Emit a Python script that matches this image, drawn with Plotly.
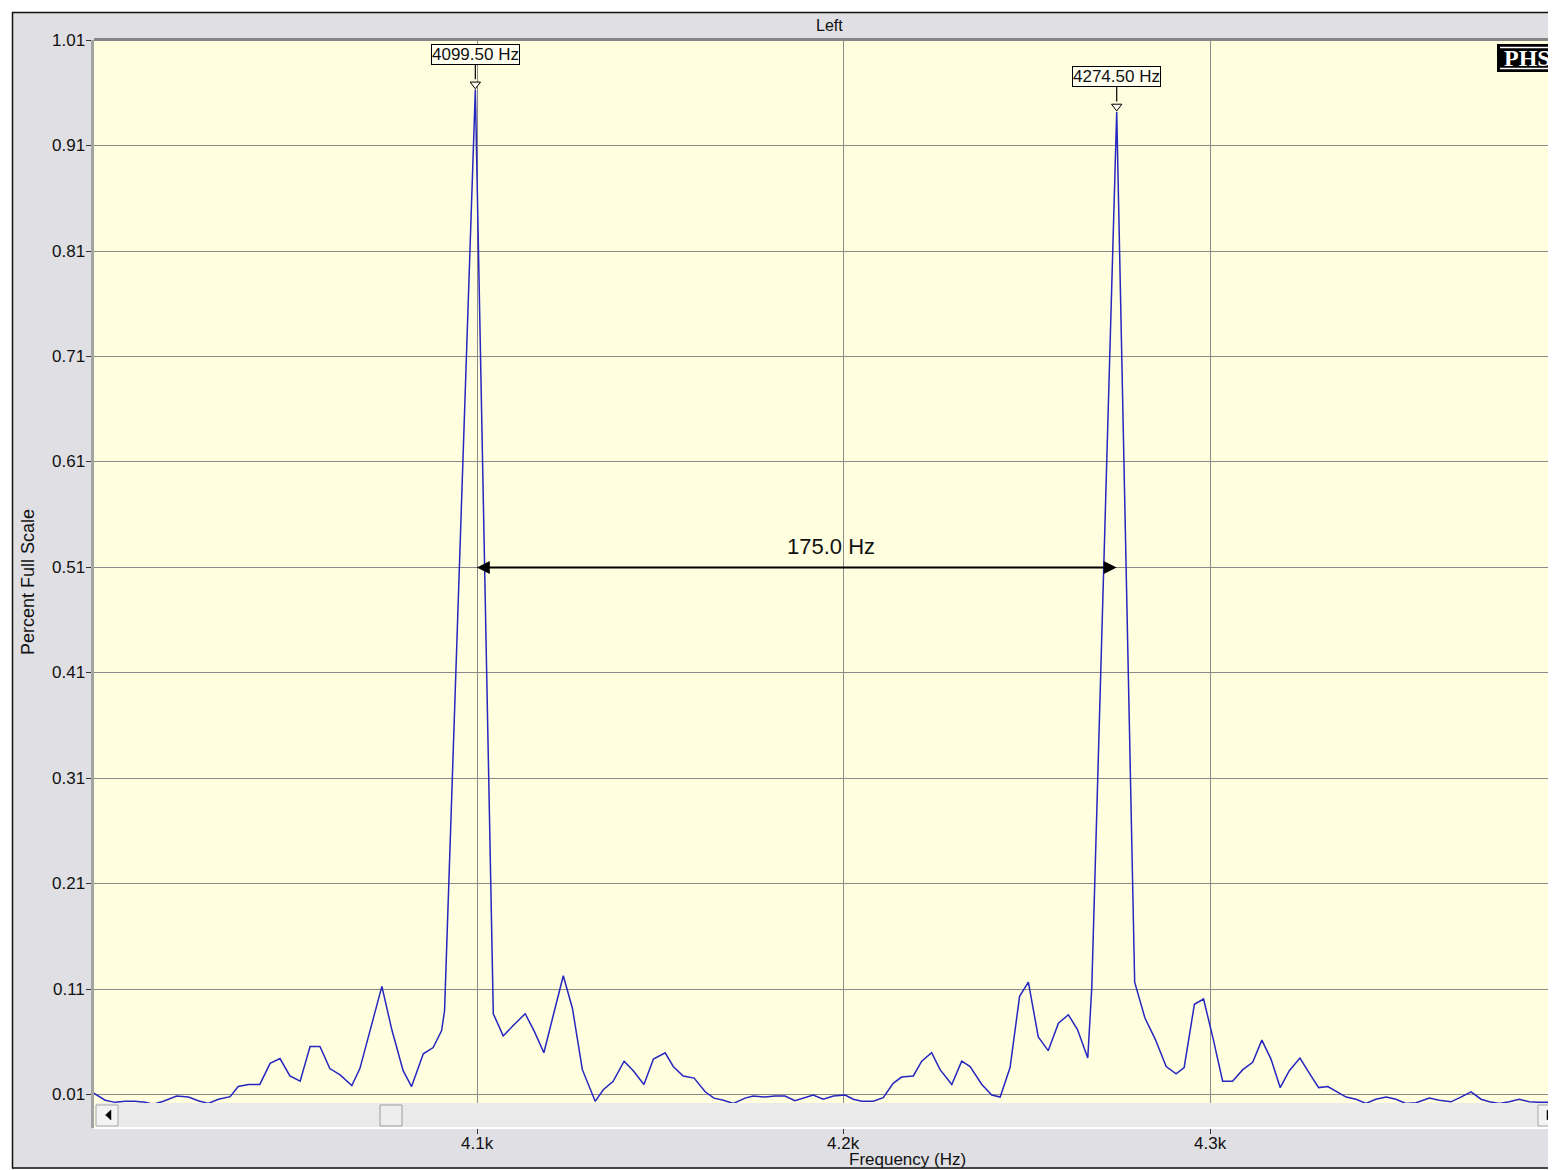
import plotly.graph_objects as go

# ---------------- data ----------------
freq_hz = [
    3993.8, 3998.5, 4001.2, 4003.9, 4006.6, 4009.4, 4011.6, 4014.4, 4018.0, 4021.2,
    4023.9, 4026.6, 4029.4, 4032.6, 4034.8, 4037.6, 4040.7, 4043.5, 4046.2, 4048.9,
    4051.7, 4054.4, 4057.1, 4059.8, 4062.6, 4065.8, 4068.0, 4071.0, 4074.0, 4076.7,
    4079.8, 4082.1, 4085.3, 4088.0, 4090.3, 4091.1, 4099.5, 4104.4, 4107.1, 4109.9,
    4113.1, 4115.5, 4118.2, 4120.8, 4123.5, 4126.0, 4128.7, 4132.2, 4134.4, 4137.1,
    4140.1, 4142.6, 4145.5, 4148.1, 4151.3, 4153.5, 4156.2, 4159.2, 4162.2, 4164.6,
    4167.2, 4169.9, 4173.1, 4175.3, 4178.5, 4181.3, 4184.0, 4186.7, 4189.0, 4191.7,
    4194.4, 4197.2, 4200.4, 4202.6, 4204.9, 4208.1, 4210.8, 4213.5, 4215.8, 4219.0,
    4221.3, 4224.0, 4226.3, 4229.5, 4232.2, 4234.5, 4237.7, 4240.4, 4242.7, 4245.4,
    4248.0, 4250.4, 4253.1, 4255.8, 4258.6, 4261.3, 4263.8, 4266.6, 4267.7, 4274.5,
    4279.4, 4282.2, 4285.0, 4288.0, 4290.7, 4292.9, 4295.7, 4298.2, 4300.9, 4303.4,
    4306.1, 4308.9, 4311.6, 4314.1, 4316.6, 4319.1, 4321.6, 4324.5, 4327.0, 4329.6,
    4332.1, 4334.8, 4337.1, 4339.8, 4342.5, 4345.2, 4348.0, 4350.7, 4353.4, 4356.2,
    4359.8, 4362.5, 4365.7, 4368.4, 4371.2, 4373.9, 4376.2, 4378.9, 4381.6, 4384.3,
    4387.1, 4389.8, 4392.5, 4395.2,
]
amplitude = [
    0.015, 0.005, 0.003, 0.004, 0.004, 0.003, 0.0013, 0.004, 0.009, 0.008,
    0.0045, 0.002, 0.006, 0.0084, 0.018, 0.020, 0.020, 0.040, 0.0445, 0.028,
    0.023, 0.056, 0.056, 0.035, 0.029, 0.019, 0.035, 0.074, 0.113, 0.072,
    0.033, 0.018, 0.049, 0.055, 0.071, 0.090, 0.963, 0.087, 0.066, 0.076,
    0.087, 0.071, 0.050, 0.086, 0.123, 0.092, 0.034, 0.004, 0.015, 0.023,
    0.042, 0.033, 0.020, 0.044, 0.050, 0.037, 0.028, 0.026, 0.013, 0.007,
    0.005, 0.002, 0.007, 0.009, 0.008, 0.009, 0.009, 0.0045, 0.007, 0.010,
    0.006, 0.009, 0.010, 0.006, 0.004, 0.004, 0.0074, 0.021, 0.027, 0.028,
    0.042, 0.050, 0.034, 0.020, 0.042, 0.037, 0.020, 0.010, 0.008, 0.036,
    0.1035, 0.117, 0.065, 0.052, 0.078, 0.086, 0.072, 0.045, 0.112, 0.942,
    0.117, 0.083, 0.063, 0.037, 0.030, 0.036, 0.096, 0.101, 0.062, 0.023,
    0.023, 0.034, 0.041, 0.062, 0.044, 0.017, 0.033, 0.045, 0.031, 0.017,
    0.018, 0.013, 0.008, 0.006, 0.002, 0.006, 0.008, 0.006, 0.002, 0.0026,
    0.007, 0.005, 0.0035, 0.008, 0.013, 0.006, 0.0035, 0.002, 0.0035, 0.006,
    0.0035, 0.003, 0.003, 0.002,
]

peak_freqs = [4099.5, 4274.5]
peak_values = [0.963, 0.942]
peak_labels = ["4099.50 Hz", "4274.50 Hz"]
delta_label = "175.0 Hz"
delta_level = 0.51

x_tickvals = [4100, 4200, 4300]
x_ticktext = ["4.1k", "4.2k", "4.3k"]
y_tickvals = [0.01, 0.11, 0.21, 0.31, 0.41, 0.51, 0.61, 0.71, 0.81, 0.91, 1.01]
y_ticktext = ["0.01", "0.11", "0.21", "0.31", "0.41", "0.51", "0.61", "0.71", "0.81", "0.91", "1.01"]
x_range = [3995.45, 4394.36]
y_range = [-0.0213, 1.01]

title_text = "Left"
x_title = "Frequency (Hz)"
y_title = "Percent Full Scale"

# ---------------- layout geometry ----------------
# The page body has an 8px margin, so the figure is drawn 8px in from the
# window's corner; all screen positions below are given in window pixels.
OFF = 8
W, H = 1556 - OFF, 1170 - OFF
ML, MR, MT, MB = 94 - OFF, 0, 40 - OFF, 1170 - 1128
PW = W - ML - MR
PH = H - MT - MB


def px(X):
    return (X - OFF - ML) / PW


def py(Y):
    return (H - MB - (Y - OFF)) / PH


FONT = "Liberation Sans, Arial, sans-serif"
PANEL = "#DFDFE4"
PLOTBG = "#FFFFDF"
GRID = "#8A8A8A"
LINE = "#2626C0"
TXT = "#111111"

fig = go.Figure()

fig.add_trace(go.Scatter(
    x=freq_hz, y=amplitude, mode="lines",
    line=dict(color=LINE, width=1.5),
    hoverinfo="skip", showlegend=False,
))

# peak marker triangles (hollow-looking)
fig.add_trace(go.Scatter(
    x=peak_freqs, y=[v + 0.005 for v in peak_values], mode="markers",
    marker=dict(symbol="triangle-down", size=9, color="#FFFFEF",
                line=dict(color="black", width=1)),
    hoverinfo="skip", showlegend=False, cliponaxis=False,
))

shapes = []


def rect(X0, Y0, X1, Y1, fill, line_color=None, lw=0, layer="above"):
    shapes.append(dict(
        type="rect", xref="paper", yref="paper",
        x0=px(X0), x1=px(X1), y0=py(Y1), y1=py(Y0),
        fillcolor=fill, layer=layer,
        line=dict(color=line_color or fill, width=lw),
    ))


def hline(X0, X1, Y, color, lw, layer="above"):
    shapes.append(dict(type="line", xref="paper", yref="paper",
                       x0=px(X0), x1=px(X1), y0=py(Y), y1=py(Y),
                       line=dict(color=color, width=lw), layer=layer))


def vline(X, Y0, Y1, color, lw, layer="above"):
    shapes.append(dict(type="line", xref="paper", yref="paper",
                       x0=px(X), x1=px(X), y0=py(Y0), y1=py(Y1),
                       line=dict(color=color, width=lw), layer=layer))


def tri(points, fill):
    path = "M " + " L ".join(f"{px(a):.6f},{py(b):.6f}" for a, b in points) + " Z"
    shapes.append(dict(type="path", xref="paper", yref="paper", path=path,
                       fillcolor=fill, line=dict(color=fill, width=0.5), layer="above"))


# outer white margin + black frame
rect(OFF - 2, OFF - 2, 1560, 12, "white")
rect(OFF - 2, OFF - 2, 12, 1172, "white")
rect(OFF - 2, 1168.5, 1560, 1172, "white")
hline(12, 1560, 12.5, "#111111", 1.5)
vline(12.5, 12, 1168.5, "#111111", 1.5)
hline(12, 1560, 1168, "#111111", 1.5)

# top border of plot area
hline(94, 1560, 39.5, "#858585", 3)

# scrollbar
rect(95.5, 1103, 1560, 1127, "#EAEAEA")
rect(96, 1105, 118, 1126, "#F3F3F3", "#A8A8A8", 1)
tri([(111, 1110), (111, 1120), (105.5, 1115)], "black")
rect(380, 1105, 402, 1126, "#EEEEEE", "#9C9C9C", 1)
rect(1538, 1105, 1560, 1126, "#F3F3F3", "#A8A8A8", 1)
tri([(1547, 1110), (1547, 1120), (1552.5, 1115)], "black")
hline(94, 1560, 1128, "white", 2)

# PHS logo
rect(1497, 44, 1562, 72, "black")
hline(1500, 1560, 47.5, "white", 1.5)
hline(1500, 1560, 68.5, "white", 1.5)

annotations = []

# peak labels with leader lines
for f, v, lab in zip(peak_freqs, peak_values, peak_labels):
    annotations.append(dict(
        x=f, y=v + 0.005, xref="x", yref="y",
        text=lab, showarrow=True, arrowhead=0, arrowwidth=1.2,
        arrowcolor="black", ax=0, ay=-30, standoff=5,
        bordercolor="black", borderwidth=1, borderpad=0,
        bgcolor="#FFFFF0",
        font=dict(family=FONT, size=17, color=TXT),
    ))

# delta measurement arrow
annotations.append(dict(
    x=peak_freqs[1], y=delta_level, ax=peak_freqs[0], ay=delta_level,
    xref="x", yref="y", axref="x", ayref="y",
    text="", showarrow=True, arrowhead=2, startarrowhead=2,
    arrowside="end+start", arrowsize=1.3, startarrowsize=1.3,
    arrowwidth=2, arrowcolor="black",
))
annotations.append(dict(
    x=4196.5, y=delta_level, xref="x", yref="y",
    text=delta_label, showarrow=False, xanchor="center", yanchor="bottom", yshift=6,
    font=dict(family=FONT, size=22, color=TXT),
))

# tick labels (placed as in the reference)
for v, t in zip(y_tickvals, y_ticktext):
    annotations.append(dict(x=px(87), y=v, xref="paper", yref="y", text=t,
                            showarrow=False, xanchor="right", yanchor="middle",
                            font=dict(family=FONT, size=17, color=TXT)))
for v, t in zip(x_tickvals, x_ticktext):
    annotations.append(dict(x=v, y=py(1143), xref="x", yref="paper", text=t,
                            showarrow=False, xanchor="center", yanchor="middle",
                            font=dict(family=FONT, size=17, color=TXT)))

# titles
annotations.append(dict(x=px(829), y=py(25), xref="paper", yref="paper",
                        text=title_text, showarrow=False,
                        xanchor="center", yanchor="middle",
                        font=dict(family=FONT, size=16, color=TXT)))
annotations.append(dict(x=px(908), y=py(1159), xref="paper", yref="paper",
                        text=x_title, showarrow=False,
                        xanchor="center", yanchor="middle",
                        font=dict(family=FONT, size=17, color=TXT)))
annotations.append(dict(x=px(28), y=py(582), xref="paper", yref="paper",
                        text=y_title, showarrow=False, textangle=-90,
                        xanchor="center", yanchor="middle",
                        font=dict(family=FONT, size=18, color=TXT)))
annotations.append(dict(x=px(1527), y=py(58), xref="paper", yref="paper",
                        text="<b>PHS</b>", showarrow=False,
                        xanchor="center", yanchor="middle",
                        font=dict(family="Liberation Serif, Times New Roman, serif",
                                  size=24, color="white")))

fig.update_layout(
    width=W, height=H, autosize=False,
    margin=dict(l=ML, r=MR, t=MT, b=MB, pad=0),
    paper_bgcolor=PANEL, plot_bgcolor=PLOTBG,
    font=dict(family=FONT, size=16, color=TXT),
    showlegend=False,
    shapes=shapes, annotations=annotations,
    xaxis=dict(
        range=x_range, tickvals=x_tickvals, showticklabels=False,
        showgrid=True, gridcolor=GRID, gridwidth=1,
        zeroline=False, showline=False,
        ticks="outside", ticklen=5, tickcolor="#333333", tickwidth=1,
        fixedrange=True,
    ),
    yaxis=dict(
        range=y_range, tickvals=y_tickvals, showticklabels=False,
        showgrid=True, gridcolor=GRID, gridwidth=1,
        zeroline=False, showline=True, linecolor="#A3A3A3", linewidth=3,
        ticks="outside", ticklen=5, tickcolor="#333333", tickwidth=1,
        fixedrange=True,
    ),
)

fig.write_html("out.html", config={"displayModeBar": False})
